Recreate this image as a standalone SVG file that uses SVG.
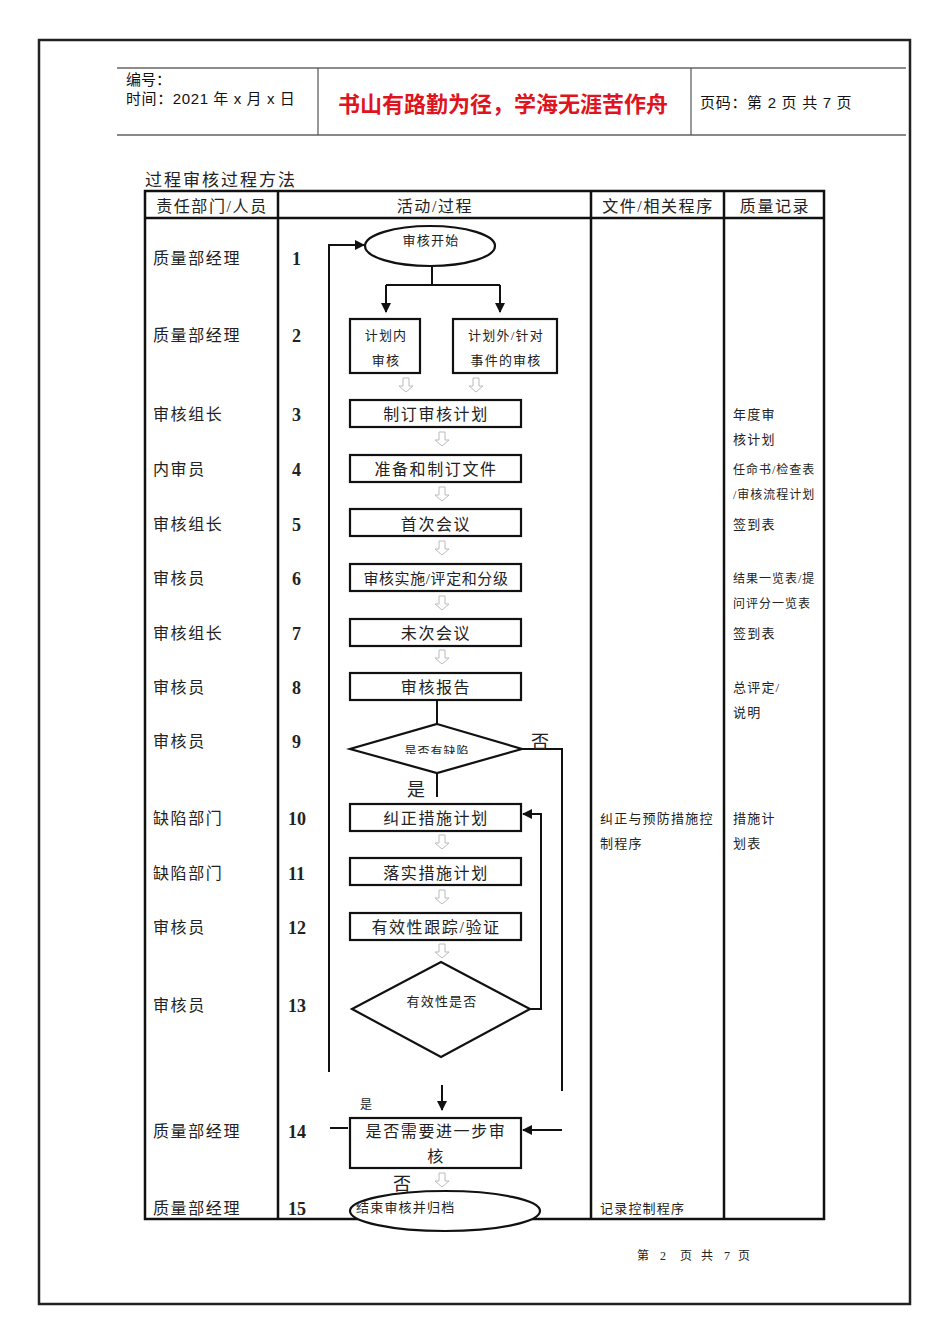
<svg xmlns="http://www.w3.org/2000/svg" width="950" height="1344" viewBox="0 0 950 1344">
<style>
.t{font-family:"Liberation Serif","Noto Sans CJK SC",serif;fill:#222}
.s{font-family:"Liberation Sans","Noto Sans CJK SC",sans-serif;fill:#111}
.f16{font-size:16px;letter-spacing:1.6px}.f13{font-size:13px;letter-spacing:1.2px}.f12{font-size:12px;letter-spacing:1px}.f18{font-size:18px}
.num{font-family:"Liberation Serif",serif;font-size:18px;font-weight:bold;fill:#222}
.box{fill:#fff;stroke:#111;stroke-width:2.2}
.ln{fill:none;stroke:#111;stroke-width:2}
.tb{fill:none;stroke:#111;stroke-width:2.5}
.ha{fill:#fff;stroke:#bbb;stroke-width:1}
</style>
<defs>
<marker id="ah" viewBox="0 0 10 10" refX="9" refY="5" markerWidth="5" markerHeight="5" orient="auto">
<path d="M0,0 L10,5 L0,10 z" fill="#111"/>
</marker>
<path id="hol" d="M-3,0 h6 v8 h4 l-7,6 l-7,-6 h4 z" class="ha"/>
<clipPath id="clip9"><rect x="350" y="724" width="172" height="30"/></clipPath>
</defs>
<rect width="950" height="1344" fill="#fff"/>
<rect x="39" y="40" width="871" height="1264" fill="none" stroke="#222" stroke-width="2.5"/>
<g id="header">
<line x1="117" y1="68" x2="906" y2="68" stroke="#666" stroke-width="1.5"/>
<line x1="117" y1="135" x2="906" y2="135" stroke="#888" stroke-width="2"/>
<line x1="318" y1="68" x2="318" y2="135" stroke="#555" stroke-width="1.2"/>
<line x1="691" y1="68" x2="691" y2="135" stroke="#555" stroke-width="1.2"/>
<text class="s" x="126" y="85" font-size="15">编号：</text>
<text class="s" x="126" y="104" font-size="15" letter-spacing="0.6">时间：2021 年 x 月 x 日</text>
<text x="338" y="112" font-size="22" font-weight="bold" fill="#e0141e" font-family="Liberation Sans,Noto Sans CJK SC,sans-serif">书山有路勤为径，学海无涯苦作舟</text>
<text class="s" x="700" y="108" font-size="15" letter-spacing="0.7">页码：第 2 页 共 7 页</text>
</g>
<text class="t" x="145" y="186" font-size="17" letter-spacing="2">过程审核过程方法</text>
<g id="table">
<rect x="145" y="191" width="679" height="1028" class="tb"/>
<line x1="145" y1="218" x2="824" y2="218" class="tb"/>
<line x1="278" y1="191" x2="278" y2="1219" class="tb"/>
<line x1="591" y1="191" x2="591" y2="1219" class="tb"/>
<line x1="724" y1="191" x2="724" y2="1219" class="tb"/>
<text class="t f16" x="212" y="212" text-anchor="middle">责任部门/人员</text>
<text class="t f16" x="435" y="212" text-anchor="middle">活动/过程</text>
<text class="t f16" x="658" y="212" text-anchor="middle">文件/相关程序</text>
<text class="t f16" x="775" y="212" text-anchor="middle">质量记录</text>
</g>
<g id="roles">
<g class="t f16">
<text x="153" y="264">质量部经理</text>
<text x="153" y="341">质量部经理</text>
<text x="153" y="420">审核组长</text>
<text x="153" y="475">内审员</text>
<text x="153" y="530">审核组长</text>
<text x="153" y="584">审核员</text>
<text x="153" y="639">审核组长</text>
<text x="153" y="693">审核员</text>
<text x="153" y="747">审核员</text>
<text x="153" y="824">缺陷部门</text>
<text x="153" y="879">缺陷部门</text>
<text x="153" y="933">审核员</text>
<text x="153" y="1011">审核员</text>
<text x="153" y="1137">质量部经理</text>
<text x="153" y="1214">质量部经理</text>
</g>
<g class="num">
<text x="292" y="265">1</text><text x="292" y="342">2</text><text x="292" y="421">3</text><text x="292" y="476">4</text>
<text x="292" y="531">5</text><text x="292" y="585">6</text><text x="292" y="640">7</text><text x="292" y="694">8</text>
<text x="292" y="748">9</text><text x="288" y="825">10</text><text x="288" y="880">11</text><text x="288" y="934">12</text>
<text x="288" y="1012">13</text><text x="288" y="1138">14</text><text x="288" y="1215">15</text>
</g>
</g>
<g id="docs" class="t f13">
<text x="600" y="823">纠正与预防措施控</text>
<text x="600" y="848">制程序</text>
<text x="600" y="1213">记录控制程序</text>
</g>
<g id="records" class="t f13">
<text x="733" y="419">年度审</text><text x="733" y="444">核计划</text>
<text x="733" y="474" font-size="12" letter-spacing="1">任命书/检查表</text><text x="733" y="499" font-size="12" letter-spacing="1">/审核流程计划</text>
<text x="733" y="529">签到表</text>
<text x="733" y="583" font-size="12" letter-spacing="1">结果一览表/提</text><text x="733" y="608" font-size="12" letter-spacing="1">问评分一览表</text>
<text x="733" y="638">签到表</text>
<text x="733" y="692">总评定/</text><text x="733" y="717">说明</text>
<text x="733" y="823">措施计</text><text x="733" y="848">划表</text>
</g>
<g id="connectors">
<polyline points="329,1072 329,245 364,245" class="ln" marker-end="url(#ah)"/>
<polyline points="432,266 432,285" class="ln"/>
<polyline points="386,285 500,285" class="ln"/>
<line x1="386" y1="285" x2="386" y2="312" class="ln" marker-end="url(#ah)"/>
<line x1="500" y1="285" x2="500" y2="312" class="ln" marker-end="url(#ah)"/>
<use href="#hol" x="406" y="378"/>
<use href="#hol" x="476" y="378"/>
<use href="#hol" x="442" y="432"/>
<use href="#hol" x="442" y="487"/>
<use href="#hol" x="442" y="541"/>
<use href="#hol" x="442" y="596"/>
<use href="#hol" x="442" y="650"/>
<line x1="437" y1="700" x2="437" y2="724" class="ln"/>
<polyline points="522,749 562,749 562,1091" class="ln"/>
<line x1="437" y1="773" x2="437" y2="797" class="ln"/>
<polyline points="530,1009 541,1009 541,814 523,814" class="ln" marker-end="url(#ah)"/>
<use href="#hol" x="442" y="835"/>
<use href="#hol" x="442" y="890"/>
<use href="#hol" x="442" y="944"/>
<line x1="442" y1="1085" x2="442" y2="1110" class="ln" marker-end="url(#ah)"/>
<line x1="330" y1="1128" x2="348" y2="1128" class="ln"/>
<line x1="562" y1="1130" x2="523" y2="1130" class="ln" marker-end="url(#ah)"/>
<use href="#hol" x="442" y="1173"/>
<text class="t f18" x="531" y="748">否</text>
<text class="t f18" x="407" y="796">是</text>
<text class="t f12" x="360" y="1109">是</text>
<text class="t f18" x="393" y="1190">否</text>
</g>
<g id="n1"><ellipse cx="430" cy="246" rx="65" ry="20" class="box"/><text class="t f13" x="431" y="245" text-anchor="middle">审核开始</text></g>
<g id="n2a"><rect x="350" y="319" width="70" height="54" class="box"/><text class="t f13" x="386" y="340" text-anchor="middle">计划内</text><text class="t f13" x="386" y="365" text-anchor="middle">审核</text></g>
<g id="n2b"><rect x="453" y="319" width="104" height="54" class="box"/><text class="t f13" x="506" y="340" text-anchor="middle">计划外/针对</text><text class="t f13" x="506" y="365" text-anchor="middle">事件的审核</text></g>
<g id="n3"><rect x="350" y="400" width="171" height="27" class="box"/><text class="t f16" x="436" y="420" text-anchor="middle">制订审核计划</text></g>
<g id="n4"><rect x="350" y="455" width="171" height="27" class="box"/><text class="t f16" x="436" y="475" text-anchor="middle">准备和制订文件</text></g>
<g id="n5"><rect x="350" y="509" width="171" height="27" class="box"/><text class="t f16" x="436" y="530" text-anchor="middle">首次会议</text></g>
<g id="n6"><rect x="350" y="564" width="171" height="27" class="box"/><text class="t" x="436" y="584" text-anchor="middle" font-size="15" letter-spacing="0.6">审核实施/评定和分级</text></g>
<g id="n7"><rect x="350" y="619" width="171" height="27" class="box"/><text class="t f16" x="436" y="639" text-anchor="middle">未次会议</text></g>
<g id="n8"><rect x="350" y="673" width="171" height="27" class="box"/><text class="t f16" x="436" y="693" text-anchor="middle">审核报告</text></g>
<g id="n9"><polygon points="437,724 522,749 437,773 350,749" class="box"/><text class="t f12" x="437" y="756" text-anchor="middle" clip-path="url(#clip9)">是否有缺陷</text></g>
<g id="n10"><rect x="350" y="804" width="171" height="27" class="box"/><text class="t f16" x="436" y="824" text-anchor="middle">纠正措施计划</text></g>
<g id="n11"><rect x="350" y="858" width="171" height="27" class="box"/><text class="t f16" x="436" y="879" text-anchor="middle">落实措施计划</text></g>
<g id="n12"><rect x="350" y="913" width="171" height="27" class="box"/><text class="t f16" x="436" y="933" text-anchor="middle">有效性跟踪/验证</text></g>
<g id="n13"><polygon points="441,962 530,1009 441,1057 352,1009" class="box"/><text class="t f13" x="442" y="1006" text-anchor="middle">有效性是否</text></g>
<g id="n14"><rect x="350" y="1118" width="171" height="50" class="box"/><text class="t f16" x="436" y="1137" text-anchor="middle">是否需要进一步审</text><text class="t f16" x="436" y="1162" text-anchor="middle">核</text></g>
<g id="n15"><ellipse cx="445" cy="1211" rx="95" ry="20" class="box"/><text class="t f13" x="356" y="1212">结束审核并归档</text></g>
<g id="footer" class="t" font-size="12">
<text x="637" y="1260">第</text><text x="660" y="1260">2</text><text x="680" y="1260">页</text>
<text x="701" y="1260">共</text><text x="724" y="1260">7</text><text x="738" y="1260">页</text>
</g>
</svg>
